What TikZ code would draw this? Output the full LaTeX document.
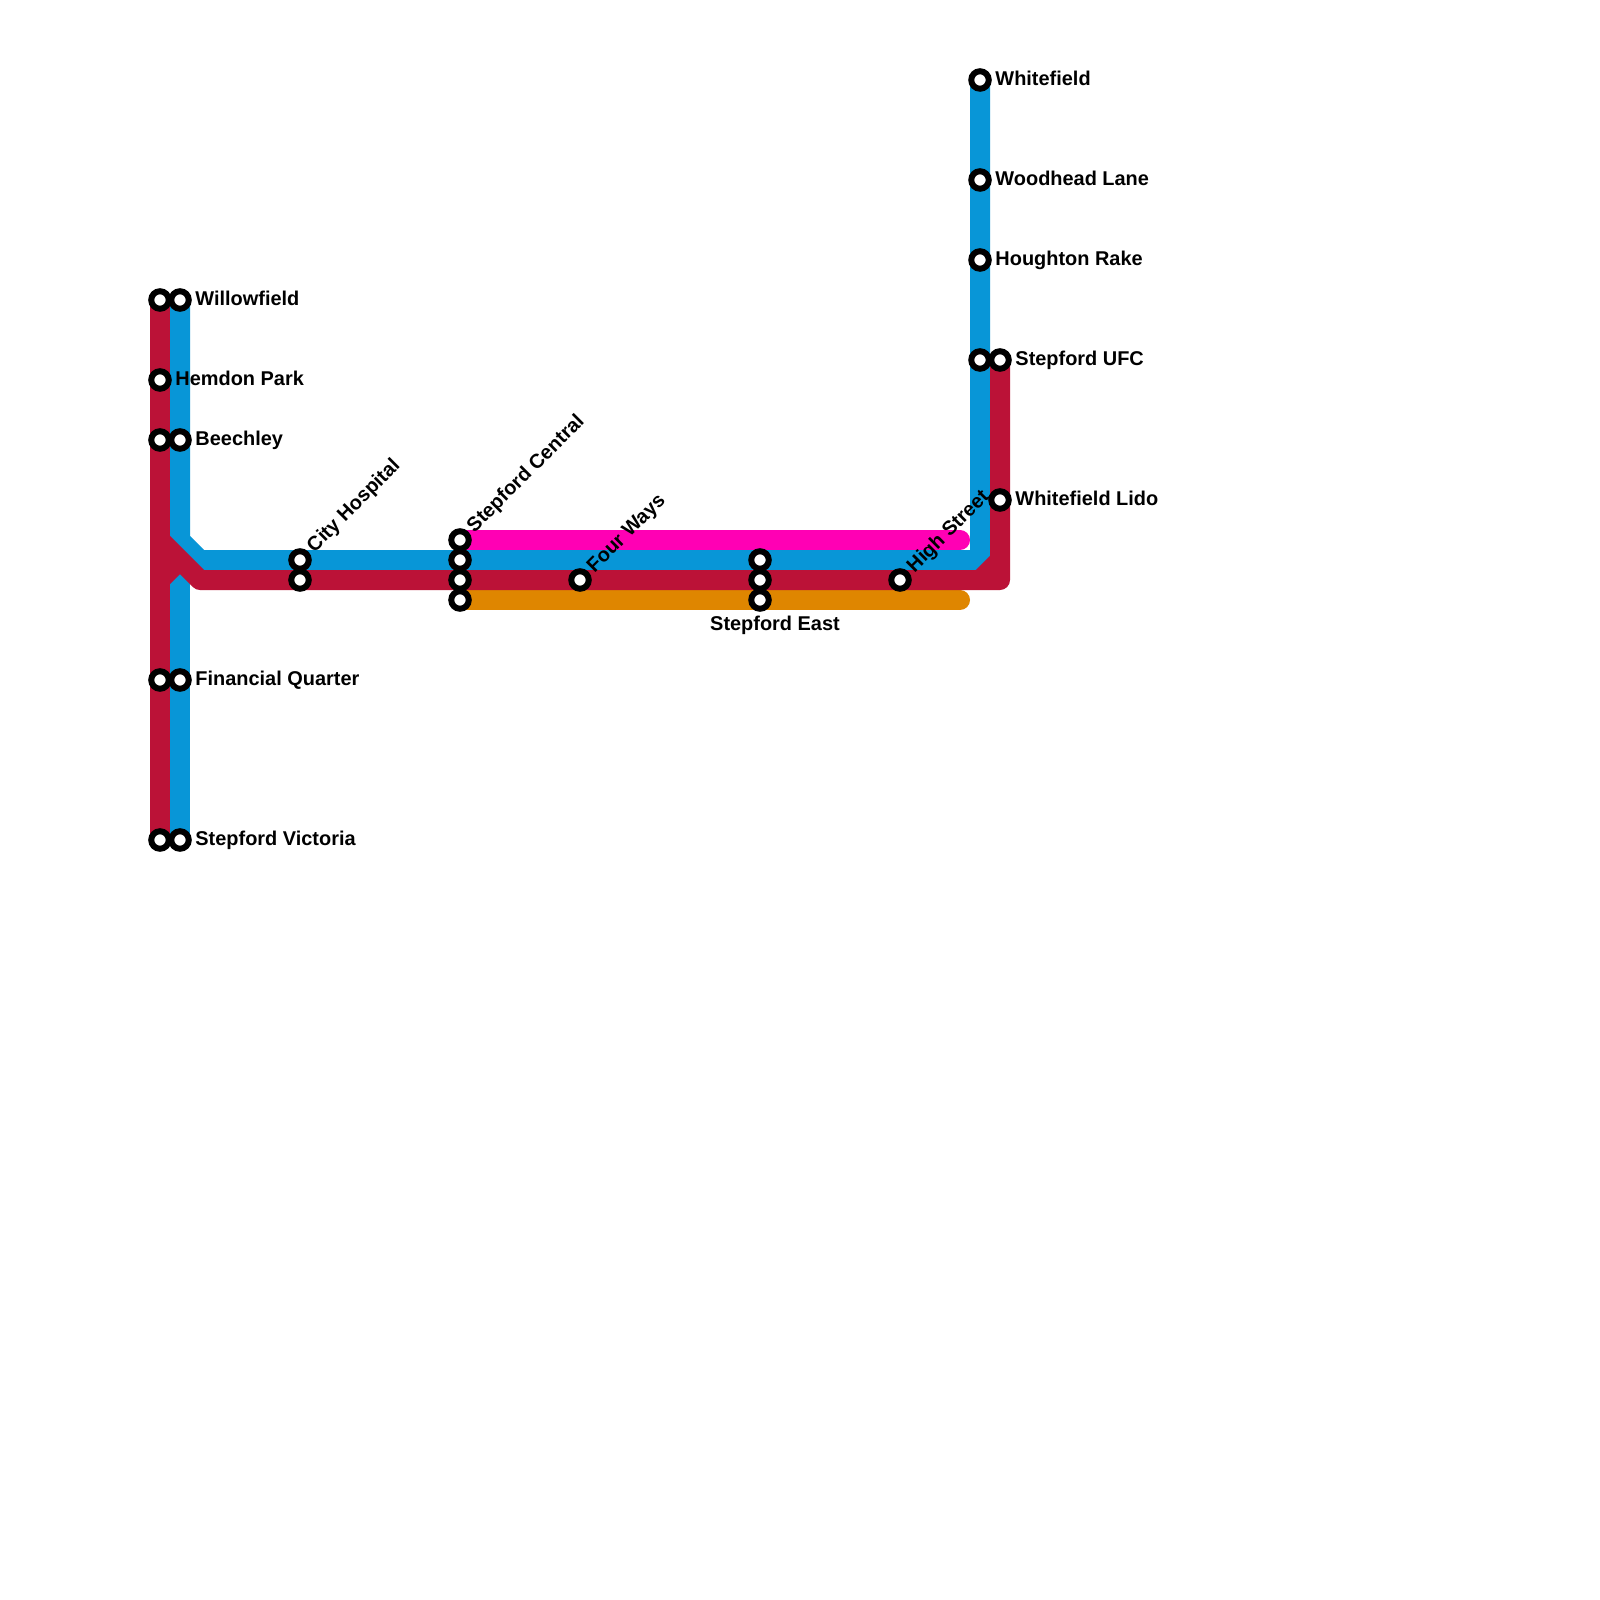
\documentclass[tikz,border=0pt]{standalone}
\usepackage{fontspec}
\setmainfont{Liberation Sans}
\definecolor{lnblue}{HTML}{0896D7}
\definecolor{lnred}{HTML}{BB1237}
\definecolor{lnpink}{HTML}{FF00B4}
\definecolor{lnorange}{HTML}{DF8600}
\usetikzlibrary{positioning}
\begin{document}
\begin{tikzpicture}[
  y=-1cm,
  stn/.style={circle, draw=black, fill=white, line width=0.06cm,
    minimum size=0.175cm, inner sep=0pt},
  lbl/.style={font=\fontsize{5.67pt}{6pt}\selectfont\bfseries, inner sep=0pt, text=black,
    text height=0.14cm, text depth=0.03cm},
  lblup/.style={lbl, rotate=45, anchor=west, xshift=0.028cm},
  ln/.style={line width=0.2cm, line join=round, line cap=round}
]
  \useasboundingbox (0,0) rectangle (16,16);
  \fill[white] (0,0) rectangle (16,16);

  % bends and line ends
  \coordinate (blueA) at (1.8,5.4);
  \coordinate (blueB) at (2.0,5.6);
  \coordinate (blueC) at (9.8,5.6);
  \coordinate (redA) at (1.6,5.4);
  \coordinate (redB) at (2.0,5.8);
  \coordinate (redC) at (10.0,5.8);
  \coordinate (redD) at (10.0,5.6);
  \coordinate (redE) at (9.8,5.8);
  \coordinate (redF) at (1.6,5.8);
  \coordinate (redG) at (1.8,5.6);
  \coordinate (pinkStart) at (4.6,5.4);
  \coordinate (pinkEnd) at (9.6,5.4);
  \coordinate (orangeStart) at (4.6,6.0);
  \coordinate (orangeEnd) at (9.6,6.0);
  \coordinate (blueTop) at (9.8,0.8);
  \coordinate (blueLeft) at (1.8,3.0);
  \coordinate (blueLow) at (1.8,8.4);
  \coordinate (redTop) at (1.6,3.0);
  \coordinate (redLow) at (1.6,8.4);
  \coordinate (redRight) at (10.0,3.6);

  \draw[ln, lnpink] (pinkStart) -- (pinkEnd);
  \draw[ln, lnorange] (orangeStart) -- (orangeEnd);
  \draw[ln, lnblue] (blueLeft) -- (blueA) -- (blueB) -- (blueC) -- (blueTop);
  \draw[line width=0.2cm, lnblue] (blueLow) -- (blueA);
  \draw[ln, line cap=butt, lnred] (redTop) -- (redLow);
  \draw[ln, lnred] (redA) -- (redB) -- (redC) -- (redRight);
  \draw[ln, line cap=butt, lnred] (redF) -- (redG);
  \draw[line width=0.2cm, lnred] (redD) -- (redE);

  % stations on the left
  \node[stn] (willowR) at (redTop) {};
  \node[stn] (hemdon) at (1.6,3.8) {};
  \node[stn] (beechR) at (1.6,4.4) {};
  \node[stn] (finR) at (1.6,6.8) {};
  \node[stn] (victR) at (redLow) {};
  \node[stn] (willowB) at (blueLeft) {};
  \node[stn] (beechB) at (1.8,4.4) {};
  \node[stn] (finB) at (1.8,6.8) {};
  \node[stn] (victB) at (blueLow) {};

  % stations along the middle
  \node[stn] (cityB) at (3.0,5.6) {};
  \node[stn] (cityR) at (3.0,5.8) {};
  \node[stn] (centP) at (pinkStart) {};
  \node[stn] (centB) at (4.6,5.6) {};
  \node[stn] (centR) at (4.6,5.8) {};
  \node[stn] (centO) at (orangeStart) {};
  \node[stn] (four) at (5.8,5.8) {};
  \node[stn] (eastB) at (7.6,5.6) {};
  \node[stn] (eastR) at (7.6,5.8) {};
  \node[stn] (eastO) at (7.6,6.0) {};
  \node[stn] (high) at (9.0,5.8) {};

  % stations on the right
  \node[stn] (white) at (blueTop) {};
  \node[stn] (wood) at (9.8,1.8) {};
  \node[stn] (hough) at (9.8,2.6) {};
  \node[stn] (ufcB) at (9.8,3.6) {};
  \node[stn] (ufcR) at (redRight) {};
  \node[stn] (lido) at (10.0,5.0) {};

  \node[lbl, right=0.03cm of willowB] (lblwillow) {Willowfield};
  \node[lbl, right=0.03cm of hemdon] (lblhemdon) {Hemdon Park};
  \node[lbl, right=0.03cm of beechB] (lblbeech) {Beechley};
  \node[lbl, right=0.03cm of finB] (lblfin) {Financial Quarter};
  \node[lbl, right=0.03cm of victB] (lblvict) {Stepford Victoria};
  \node[lbl, right=0.03cm of white] (lblwhite) {Whitefield};
  \node[lbl, right=0.03cm of wood] (lblwood) {Woodhead Lane};
  \node[lbl, right=0.03cm of hough] (lblhough) {Houghton Rake};
  \node[lbl, right=0.03cm of ufcR] (lblufc) {Stepford UFC};
  \node[lbl, right=0.03cm of lido] (lbllido) {Whitefield Lido};
  \node[lblup] (lblcity) at (cityB.45) {City Hospital};
  \node[lblup] (lblcent) at (centP.45) {Stepford Central};
  \node[lblup] (lblfour) at (four.45) {Four Ways};
  \node[lblup] (lblhigh) at (high.45) {High Street};
  \node[lbl, below=0.04cm of eastO, xshift=0.15cm] (lbleast) {Stepford East};
\end{tikzpicture}
\end{document}
